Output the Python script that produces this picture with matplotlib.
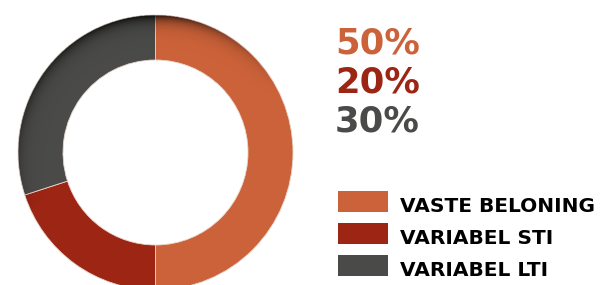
import numpy as np
import matplotlib
matplotlib.use("Agg")
import matplotlib.pyplot as plt
from matplotlib.patches import Rectangle

labels = ["VASTE BELONING", "VARIABEL STI", "VARIABEL LTI"]
shares = [50, 20, 30]
colors = ["#CC6239", "#9C2514", "#4A4A48"]

W, H = 601, 285
fig = plt.figure(figsize=(W / 100, H / 100), dpi=100)

# donut, geometry in pixels
cx, cy, r_out, r_in = 155.5, 132.5, 137.5, 92.5
ax = fig.add_axes([(cx - r_out) / W, (cy - r_out) / H, 2 * r_out / W, 2 * r_out / H])
wedges, _ = ax.pie(shares, colors=colors, startangle=90, counterclock=False, radius=1,
                   wedgeprops=dict(width=1 - r_in / r_out, edgecolor="#e8d8d0", linewidth=0.6))
ax.set_xlim(-1, 1)
ax.set_ylim(-1, 1)
ax.set_aspect("equal")
ax.axis("off")

# soft dark shading along the outer rim near the top
n = 600
xs = np.linspace(-1, 1, n)
X, Y = np.meshgrid(xs, xs[::-1])
R = np.hypot(X, Y)
T = np.degrees(np.arctan2(X, Y))  # 0 at top, clockwise positive
rim = np.exp(-(1 - R) / 0.045)
right = np.clip(1 - T / 65, 0, 1) ** 1.3
left = np.clip(1 - np.abs(T) / 115, 0, 1) ** 0.7
ang = np.where(T >= 0, right, left)
shade = np.zeros((n, n, 4))
shade[..., 3] = np.clip(rim * ang * 0.85, 0, 1)
mask = (R <= 1) & (R >= r_in / r_out)
shade[~mask, 3] = 0
ax.imshow(shade, extent=(-1, 1, -1, 1), zorder=5, interpolation="bilinear")

# big percentages
fig_ax = fig.add_axes([0, 0, 1, 1])
fig_ax.set_xlim(0, W)
fig_ax.set_ylim(H, 0)
fig_ax.axis("off")
for i, (s, c) in enumerate(zip(shares, colors)):
    fig_ax.text(335, 53 + i * 39.5, f"{s}%", color=c, fontsize=25.5, fontweight="bold",
                family=["DejaVu Sans"], va="baseline", ha="left")

# legend
for i, (lab, c) in enumerate(zip(labels, colors)):
    y0 = 191 + i * 32.2
    fig_ax.add_patch(Rectangle((338, y0), 50, 20.5, color=c, lw=0))
    fig_ax.text(400, y0 + 20.5, lab, color="black", fontsize=14.5, fontweight="bold",
                family=["DejaVu Sans"], va="baseline", ha="left")

fig.savefig("out.png", dpi=100)
